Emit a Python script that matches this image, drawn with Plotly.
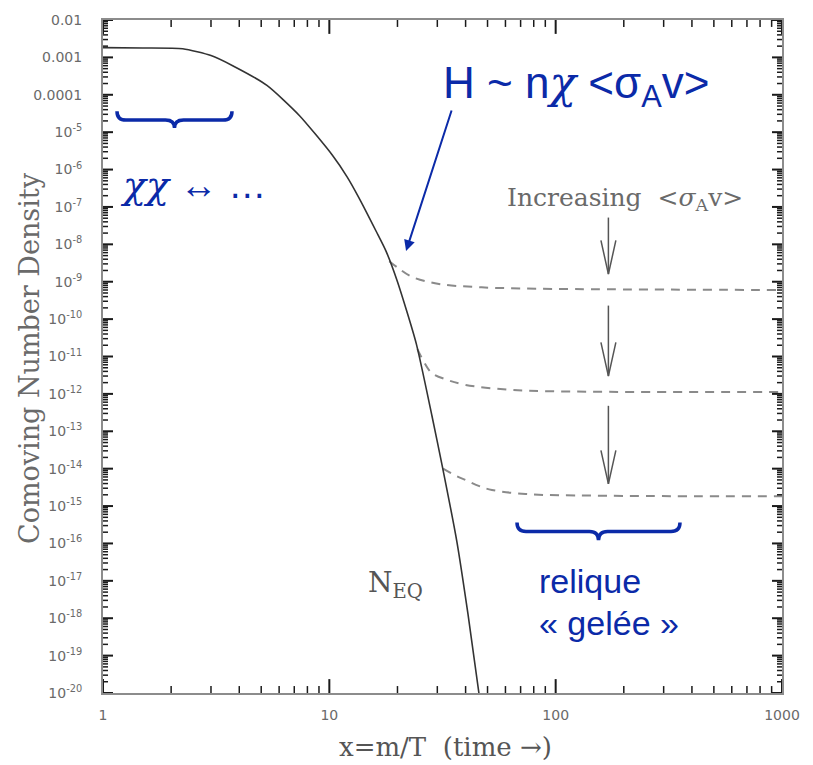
import plotly.graph_objects as go

# ---------------- data ----------------
x_eq = [1, 1.5, 2.25, 3, 3.74, 5.3, 7.37, 10.3, 12, 13.5, 16.1, 17.8, 20, 24.2, 28.4, 31.5, 36.6, 41, 45.8]
y_eq = [1.82e-3, 1.78e-3, 1.70e-3, 1.12e-3, 6.0e-4, 1.78e-4, 2.8e-5, 2.45e-6, 6.3e-7, 1.78e-7,
        2.24e-8, 6.6e-9, 1.0e-9, 2.24e-11, 2.6e-13, 1.23e-14, 1.12e-16, 1.26e-18, 1.0e-20]

x_fo1 = [18.4, 20, 23.2, 30.5, 44.4, 70, 150, 1000]
y_fo1 = [3.55e-9, 2.4e-9, 1.35e-9, 8.7e-10, 7.2e-10, 6.6e-10, 6.3e-10, 6.0e-10]

x_fo2 = [24.5, 26.5, 28.4, 33, 40, 62, 100, 1000]
y_fo2 = [1.58e-11, 6.3e-12, 3.6e-12, 2.4e-12, 1.74e-12, 1.29e-12, 1.17e-12, 1.12e-12]

x_fo3 = [31.8, 36, 40.2, 46, 52.3, 73.6, 150, 1000]
y_fo3 = [1.0e-14, 6.6e-15, 4.9e-15, 3.4e-15, 2.7e-15, 2.1e-15, 1.9e-15, 1.82e-15]

arrow_x = 171
arrow_top = [5.2e-8, 2.3e-10, 4.8e-13]
arrow_tip = [1.6e-9, 3.0e-12, 3.9e-15]

y_tickvals = [10.0 ** (-k) for k in range(2, 21)]
y_ticktext = ["0.01", "0.001", "0.0001"] + ["10<sup>-%d</sup>" % k for k in range(5, 21)]
x_tickvals = [1, 10, 100, 1000]
x_ticktext = ["1", "10", "100", "1000"]
x_minor = [m * 10 ** d for d in range(0, 3) for m in range(2, 10)]
y_minor = [m * 10.0 ** (-k) for k in range(3, 21) for m in range(2, 10)]

# ---------------- figure ----------------
W, H = 813, 765
L, R, T, B = 103, 782, 14, 693
X_RANGE = [0, 3]      # log10
Y_RANGE = [-20, -2]   # log10
BLUE = "#0b2aa8"
GRAY = "#6a6a6a"

def px(p):
    return (p - L) / (R - L)

def py(p):
    return (B - p) / (B - T)

# pixels per decade, used to give the drawn tick marks a fixed pixel length
xdec = (R - L) / (X_RANGE[1] - X_RANGE[0])
ydec = (B - T) / (Y_RANGE[1] - Y_RANGE[0])
xmin, xmax = 10 ** X_RANGE[0], 10 ** X_RANGE[1]
ymin, ymax = 10.0 ** Y_RANGE[0], 10.0 ** Y_RANGE[1]

fig = go.Figure()

dash = "9px,7px"
for xs, ys in [(x_fo1, y_fo1), (x_fo2, y_fo2), (x_fo3, y_fo3)]:
    fig.add_trace(go.Scatter(x=xs, y=ys, mode="lines",
                             line=dict(color="#8a8a8a", width=2, dash=dash, shape="spline", smoothing=1.0),
                             hoverinfo="skip", showlegend=False))

fig.add_trace(go.Scatter(x=x_eq, y=y_eq, mode="lines",
                         line=dict(color="#333333", width=1.6, shape="spline", smoothing=0.6),
                         hoverinfo="skip", showlegend=False))

# gray "increasing" arrows
arm_dec = 0.9
half_w = 10 ** 0.033
for top, tip in zip(arrow_top, arrow_tip):
    arm_y = tip * 10 ** arm_dec
    fig.add_trace(go.Scatter(x=[arrow_x, arrow_x], y=[top, tip], mode="lines",
                             line=dict(color="#555555", width=1.5), hoverinfo="skip", showlegend=False))
    fig.add_trace(go.Scatter(x=[arrow_x / half_w, arrow_x, arrow_x * half_w], y=[arm_y, tip, arm_y],
                             mode="lines", line=dict(color="#555555", width=1.5),
                             hoverinfo="skip", showlegend=False))

# tick marks on all four sides (inside), built from the tick value lists
def tick_trace(vals, length_px, vertical_axis, width):
    xs, ys = [], []
    if vertical_axis:
        f = 10 ** (length_px / xdec)
        for v in vals:
            xs += [xmin, xmin * f, None, xmax, xmax / f, None]
            ys += [v, v, None, v, v, None]
    else:
        f = 10 ** (length_px / ydec)
        for v in vals:
            xs += [v, v, None, v, v, None]
            ys += [ymin, ymin * f, None, ymax, ymax / f, None]
    return go.Scatter(x=xs, y=ys, mode="lines", line=dict(color="#1a1a1a", width=width),
                      hoverinfo="skip", showlegend=False)

fig.add_trace(tick_trace(y_tickvals, 10, True, 2.0))
fig.add_trace(tick_trace(y_minor, 5, True, 1.5))
fig.add_trace(tick_trace(x_tickvals, 14, False, 2.0))
fig.add_trace(tick_trace(x_minor, 7, False, 1.5))

base = dict(type="log", showgrid=False, zeroline=False, showline=True, mirror=True,
            linecolor="#8c8c8c", linewidth=2, ticks="", tickmode="array",
            tickfont=dict(family="DejaVu Sans", size=14, color=GRAY))

fig.update_layout(
    xaxis=dict(**base, range=X_RANGE, tickvals=x_tickvals, ticktext=x_ticktext, ticklabelstandoff=8),
    yaxis=dict(**base, range=Y_RANGE, tickvals=y_tickvals, ticktext=y_ticktext, ticklabelstandoff=16),
)

def brace(xl, xr, ytop, ymid, ytip, r=9):
    xc = (xl + xr) / 2
    def P(a, b):
        return "%.5f,%.5f" % (px(a), py(b))
    return ("M " + P(xl, ytop) + " Q " + P(xl, ymid) + " " + P(xl + r, ymid) +
            " L " + P(xc - r, ymid) + " Q " + P(xc, ymid) + " " + P(xc, ytip) +
            " Q " + P(xc, ymid) + " " + P(xc + r, ymid) +
            " L " + P(xr - r, ymid) + " Q " + P(xr, ymid) + " " + P(xr, ytop))

fig.add_shape(type="path", xref="paper", yref="paper", path=brace(117, 232, 106, 115, 123),
              line=dict(color=BLUE, width=3.5))
fig.add_shape(type="path", xref="paper", yref="paper", path=brace(517, 680, 521, 530, 539),
              line=dict(color=BLUE, width=3.5))

CHI = '<span style="font-family:DejaVu Serif"><i>\u03c7</i></span>'
annotations = [
    dict(text="H ~ n" + CHI + " &lt;\u03c3<sub>A</sub>v&gt;", x=px(441), y=py(80), xanchor="left",
         yanchor="middle", font=dict(family="Liberation Sans", size=44, color=BLUE)),
    dict(text=CHI + CHI + " \u2194 \u2026", x=px(118), y=py(180), xanchor="left", yanchor="middle",
         font=dict(family="Liberation Sans", size=38, color=BLUE)),
    dict(text="relique", x=px(537), y=py(580), xanchor="left", yanchor="middle",
         font=dict(family="Liberation Sans", size=34, color=BLUE)),
    dict(text="\u00ab gel\u00e9e \u00bb", x=px(537), y=py(622), xanchor="left", yanchor="middle",
         font=dict(family="Liberation Sans", size=34, color=BLUE)),
    dict(text="Increasing  &lt;<i>\u03c3</i><sub>A</sub>v&gt;", x=px(625), y=py(195), xanchor="center",
         yanchor="middle", font=dict(family="DejaVu Serif", size=25, color="#6a6a6a")),
    dict(text="N<sub>EQ</sub>", x=px(366), y=py(584), xanchor="left", yanchor="middle",
         font=dict(family="DejaVu Serif", size=28, color="#555555")),
    dict(text="Comoving Number Density", x=px(30), y=py(355), xanchor="center", yanchor="middle",
         textangle=-90, font=dict(family="DejaVu Serif", size=27, color="#6a6a6a")),
    dict(text="x=m/T  (time \u2192)", x=px(445), y=py(747), xanchor="center", yanchor="middle",
         font=dict(family="DejaVu Serif", size=26, color="#555555")),
]
for a in annotations:
    fig.add_annotation(xref="paper", yref="paper", showarrow=False, **a)

# blue arrow to freeze-out point
fig.add_annotation(xref="x", yref="y", x=1.339, y=-8.18, text="", showarrow=True,
                   ax=46, ay=-142, arrowhead=2, arrowsize=1.1, arrowwidth=2, arrowcolor=BLUE)

fig.update_layout(width=W, height=H, margin=dict(l=L, r=W - R, t=T, b=H - B),
                  paper_bgcolor="white", plot_bgcolor="white", showlegend=False)

fig.write_html("out.html")
